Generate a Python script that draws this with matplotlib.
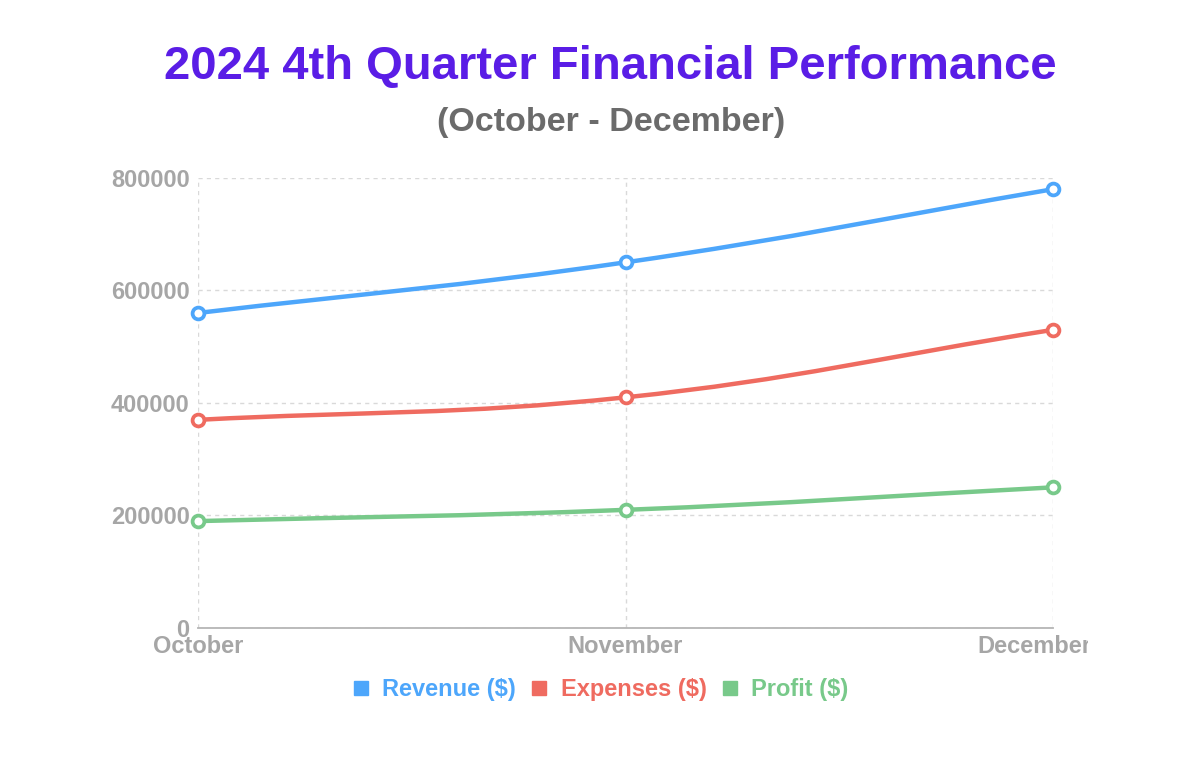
import matplotlib.pyplot as plt
import numpy as np
from matplotlib.path import Path
from matplotlib.patches import PathPatch
from matplotlib.lines import Line2D
from matplotlib.transforms import Bbox, ScaledTranslation

plt.rcParams['font.family'] = ['Liberation Sans', 'DejaVu Sans']

months = ['October', 'November', 'December']
revenue = [560000, 650000, 780000]
expenses = [370000, 410000, 530000]
profit = [190000, 210000, 250000]
y_ticks = [0, 200000, 400000, 600000, 800000]

series = [
    ('Revenue ($)', revenue, '#4da6fb'),
    ('Expenses ($)', expenses, '#ef6b60'),
    ('Profit ($)', profit, '#78c98a'),
]

fig = plt.figure(figsize=(12, 7.71), dpi=100)
fig.patch.set_facecolor('white')
ax = fig.add_axes([0.165, 0.1855, 0.7125, 0.5837])

x = np.arange(len(months))
ax.set_xlim(0, len(months) - 1)
ax.set_ylim(0, 800000)


def smooth_path(xs, ys, tension=0.4):
    # chart.js style bezier spline, done in display space
    pts = ax.transData.transform(np.column_stack([xs, ys]))
    n = len(pts)
    verts = [pts[0]]
    codes = [Path.MOVETO]
    cps = []
    for i in range(n):
        prev = pts[i - 1] if i > 0 else pts[i]
        nxt = pts[i + 1] if i < n - 1 else pts[i]
        d01 = np.hypot(*(pts[i] - prev))
        d12 = np.hypot(*(nxt - pts[i]))
        s01 = d01 / (d01 + d12) if d01 + d12 else 0
        s12 = d12 / (d01 + d12) if d01 + d12 else 0
        cps.append((pts[i] - tension * s01 * (nxt - prev),
                    pts[i] + tension * s12 * (nxt - prev)))
    for i in range(1, n):
        verts += [cps[i - 1][1], cps[i][0], pts[i]]
        codes += [Path.CURVE4] * 3
    verts = ax.transData.inverted().transform(np.array(verts))
    return Path(verts, codes)


for name, vals, color in series:
    ax.add_patch(PathPatch(smooth_path(x, vals), fill=False, edgecolor=color,
                           lw=3.2, zorder=3, capstyle='round'))
    ax.plot(x, vals, linestyle='none', marker='o', markersize=8.5,
            markerfacecolor='white', markeredgecolor=color,
            markeredgewidth=2.7, zorder=4, clip_on=False)

ax.set_xticks(x)
ax.set_xticklabels(months)
ax.set_yticks(y_ticks)
ax.set_yticklabels([str(v) for v in y_ticks])
ax.tick_params(axis='both', length=0, labelsize=17, labelcolor='#a6a6a6')
ax.tick_params(axis='y', pad=6)
ax.tick_params(axis='x', pad=5)
for lbl in ax.get_xticklabels() + ax.get_yticklabels():
    lbl.set_fontweight('bold')

ax.grid(True, color='#d9d9d9', linestyle=(0, (3, 3)), linewidth=1.0)
ax.set_axisbelow(True)
for side in ['top', 'right', 'left']:
    ax.spines[side].set_visible(False)
ax.spines['bottom'].set_color('#b5b5b5')
ax.spines['bottom'].set_linewidth(1.3)

# the last month label sits a bit left and is cut off at the canvas edge
lbl = ax.get_xticklabels()[-1]
lbl.set_transform(lbl.get_transform() +
                  ScaledTranslation(-0.19, 0, fig.dpi_scale_trans))
lbl.set_clip_box(Bbox.from_extents(0, 0, 1088, 771))
lbl.set_clip_on(True)

fig.text(0.509, 0.913, '2024 4th Quarter Financial Performance', ha='center',
         va='center', fontsize=34, fontweight='bold', color='#5a1de6')
fig.text(0.509, 0.841, '(October - December)', ha='center', va='center',
         fontsize=24.5, fontweight='bold', color='#6b6b6b')

handles = [Line2D([], [], linestyle='none', marker='s', markersize=10.5,
                  markerfacecolor=c, markeredgecolor=c) for _, _, c in series]
leg = fig.legend(handles, [s[0] for s in series], loc='center',
                 bbox_to_anchor=(0.5, 0.106), ncol=3, frameon=False,
                 fontsize=17, handlelength=0.8, handletextpad=0.5,
                 columnspacing=0.6)
for text, (_, _, c) in zip(leg.get_texts(), series):
    text.set_color(c)
    text.set_fontweight('bold')

fig.savefig('out.png', dpi=100, facecolor='white')
